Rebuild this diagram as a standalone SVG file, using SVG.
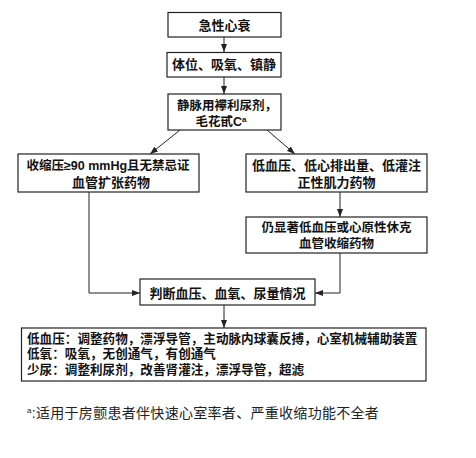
<svg xmlns="http://www.w3.org/2000/svg" width="476" height="458" viewBox="0 0 476 458">
<defs>
<marker id="arr" viewBox="0 0 8 6" refX="8" refY="3" markerWidth="8" markerHeight="6" markerUnits="userSpaceOnUse" orient="auto">
<path d="M0,0 L8,3 L0,6 Z" fill="#222"/>
</marker>
</defs>
<style>
.box{fill:#fff;stroke:#222;stroke-width:1.2}
.t{font-family:"Liberation Sans","Noto Sans CJK SC",sans-serif;font-size:13px;font-weight:600;fill:#111}
.s{font-size:12.5px}
.c{text-anchor:middle}
.con{fill:none;stroke:#222;stroke-width:1;marker-end:url(#arr)}
.fn{font-family:"Liberation Sans","Noto Sans CJK SC",sans-serif;font-size:14px;letter-spacing:0.3px;fill:#222}
</style>
<rect width="476" height="458" fill="#fff"/>
<g id="connectors">
<path class="con" d="M224,37 L224,52"/>
<path class="con" d="M224,77 L224,94"/>
<path class="con" d="M180,130 L150,154"/>
<path class="con" d="M267,130 L295,154"/>
<path class="con" d="M340,192 L340,217"/>
<path class="con" d="M89,192 L89,293 L140,293"/>
<path class="con" d="M340,253 L340,293 L315,293"/>
<path class="con" d="M224,305 L224,328"/>
</g>
<g id="n1">
<rect class="box" x="168" y="12.5" width="113" height="24.5"/>
<text class="t c" x="224.5" y="29.5">急性心衰</text>
</g>
<g id="n2">
<rect class="box" x="167" y="52.5" width="114" height="24.5"/>
<text class="t c" x="224" y="69">体位、吸氧、镇静</text>
</g>
<g id="n3">
<rect class="box" x="168" y="94" width="113" height="36"/>
<text class="t s c" x="227" y="110">静脉用襻利尿剂，</text>
<text class="t s c" x="221" y="125.5">毛花甙C<tspan font-size="8" dy="-4">a</tspan></text>
</g>
<g id="n4">
<rect class="box" x="18" y="154" width="181" height="38"/>
<text class="t s c" x="108" y="169.5">收缩压≥90 mmHg且无禁忌证</text>
<text class="t c" x="111" y="186.5">血管扩张药物</text>
</g>
<g id="n5">
<rect class="box" x="246" y="154" width="181" height="38"/>
<text class="t c" x="336.5" y="169.5">低血压、低心排出量、低灌注</text>
<text class="t c" x="336.5" y="186.5">正性肌力药物</text>
</g>
<g id="n6">
<rect class="box" x="246" y="217" width="181" height="36"/>
<text class="t s c" x="336.5" y="232">仍显著低血压或心原性休克</text>
<text class="t s c" x="336.5" y="247.5">血管收缩药物</text>
</g>
<g id="n7">
<rect class="box" x="140" y="279" width="175" height="26"/>
<text class="t c" x="227.5" y="297.5">判断血压、血氧、尿量情况</text>
</g>
<g id="n8">
<rect class="box" x="21.5" y="328" width="404.5" height="53"/>
<text class="t" x="27" y="342.5" style="font-size:12.6px">低血压：调整药物，漂浮导管，主动脉内球囊反搏，心室机械辅助装置</text>
<text class="t" x="27" y="358" style="font-size:12.6px">低氧：吸氧，无创通气，有创通气</text>
<text class="t" x="27" y="374" style="font-size:12.6px">少尿：调整利尿剂，改善肾灌注，漂浮导管，超滤</text>
</g>
<g id="footnote">
<text class="fn" x="27" y="418"><tspan font-size="8" dy="-5">a</tspan><tspan dy="5">:适用于房颤患者伴快速心室率者、严重收缩功能不全者</tspan></text>
</g>
</svg>
